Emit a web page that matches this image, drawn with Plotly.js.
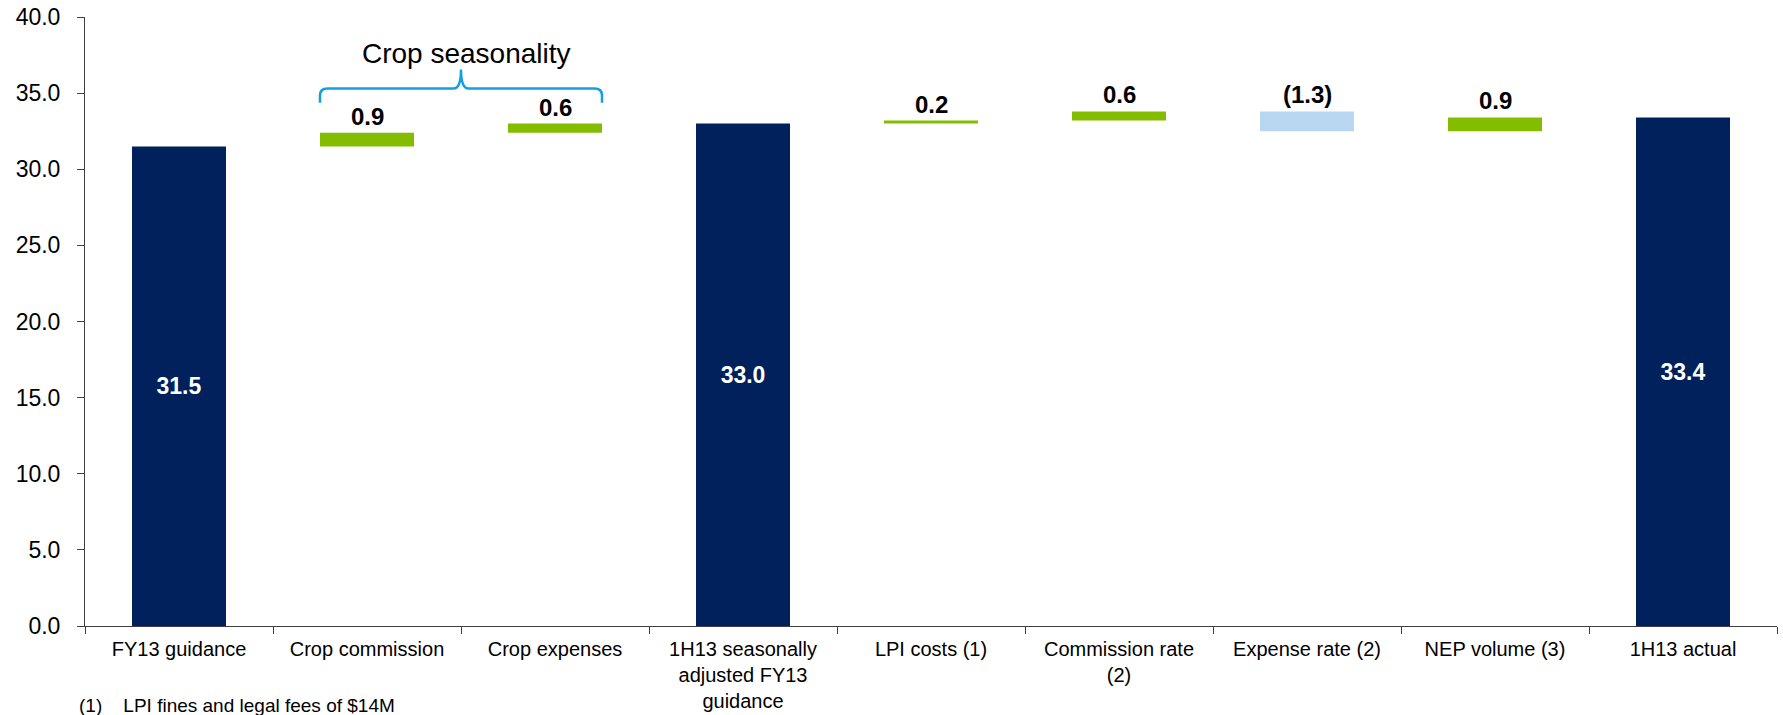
<!DOCTYPE html>
<html>
<head>
<meta charset="utf-8">
<script src="https://cdn.plot.ly/plotly-3.0.1.min.js"></script>
<style>
  html, body { margin: 0; padding: 0; background: #ffffff; }
  #chart { width: 1783px; height: 715px; }
</style>
</head>
<body>
<div id="chart"></div>
<script>
// ---- data ----
const categories = [
  'FY13 guidance',
  'Crop commission',
  'Crop expenses',
  '1H13 seasonally<br>adjusted FY13<br>guidance',
  'LPI costs (1)',
  'Commission rate<br>(2)',
  'Expense rate (2)',
  'NEP volume (3)',
  '1H13 actual'
];
const measures = ['absolute', 'relative', 'relative', 'total', 'relative', 'relative', 'relative', 'relative', 'total'];
const values = [31.5, 0.9, 0.6, 33.0, 0.2, 0.6, -1.3, 0.9, 33.4];
const valueLabels = ['31.5', '0.9', '0.6', '33.0', '0.2', '0.6', '(1.3)', '0.9', '33.4'];
const yTickVals = [0, 5, 10, 15, 20, 25, 30, 35, 40];
const bracketLabel = 'Crop seasonality';
const bracketFrom = 1;   // first category index covered by the bracket
const bracketTo = 2;     // last category index covered by the bracket
const footnote = '(1)    LPI fines and legal fees of $14M';

// ---- styles ----
const FONT = '"Liberation Sans", Arial, sans-serif';
const NAVY = '#00215B';
const GREEN = '#84BD00';
const LIGHTBLUE = '#B9D7F1';
const BRACE = '#12A0E3';
const BAR_W = 0.5;

// running totals for labels
let running = 0;
const insideText = [];
const annotations = [];
for (let i = 0; i < categories.length; i++) {
  if (measures[i] === 'relative') {
    const start = running;
    const end = running + values[i];
    running = end;
    insideText.push('');
    annotations.push({
      x: i, y: Math.max(start, end), xref: 'x', yref: 'y',
      text: '<b>' + valueLabels[i] + '</b>',
      showarrow: false, yanchor: 'bottom', yshift: 1,
      font: { family: FONT, size: 24, color: '#000000' }
    });
  } else {
    if (measures[i] === 'absolute') running = values[i];
    insideText.push('<b>' + valueLabels[i] + '</b>');
  }
}

// bracket (curly brace) in data coordinates over the crop categories
const bx0 = bracketFrom - BAR_W / 2;
const bx1 = bracketTo + BAR_W / 2;
const bmid = (bracketFrom + bracketTo) / 2;
const yEnd = 34.36, yLine = 35.3, yTip = 36.55;
const cx = 0.04, cy = 0.45;
const bracePath =
  'M ' + bx0 + ',' + yEnd +
  ' L ' + bx0 + ',' + (yLine - cy) +
  ' Q ' + bx0 + ',' + yLine + ' ' + (bx0 + cx) + ',' + yLine +
  ' L ' + (bmid - cx) + ',' + yLine +
  ' Q ' + bmid + ',' + yLine + ' ' + bmid + ',' + yTip +
  ' Q ' + bmid + ',' + yLine + ' ' + (bmid + cx) + ',' + yLine +
  ' L ' + (bx1 - cx) + ',' + yLine +
  ' Q ' + bx1 + ',' + yLine + ' ' + bx1 + ',' + (yLine - cy) +
  ' L ' + bx1 + ',' + yEnd;

annotations.push({
  x: bmid + 0.03, y: 37.6, xref: 'x', yref: 'y',
  text: bracketLabel, showarrow: false,
  font: { family: FONT, size: 28, color: '#000000' }
});
annotations.push({
  x: -0.005, y: -0.11, xref: 'paper', yref: 'paper',
  xanchor: 'left', yanchor: 'top', align: 'left',
  text: footnote, showarrow: false,
  font: { family: FONT, size: 19, color: '#000000' }
});

const trace = {
  type: 'waterfall',
  x: categories,
  y: values,
  measure: measures,
  text: insideText,
  textposition: 'inside',
  insidetextanchor: 'middle',
  textangle: 0,
  constraintext: 'none',
  textfont: { family: FONT, size: 23, color: '#ffffff' },
  width: categories.map(() => BAR_W),
  connector: { visible: false },
  increasing: { marker: { color: GREEN } },
  decreasing: { marker: { color: LIGHTBLUE } },
  totals: { marker: { color: NAVY } },
  hoverinfo: 'skip'
};

const layout = {
  width: 1783,
  height: 715,
  margin: { l: 85, r: 6, t: 17, b: 89 },
  paper_bgcolor: '#ffffff',
  plot_bgcolor: '#ffffff',
  showlegend: false,
  font: { family: FONT, color: '#000000' },
  xaxis: {
    type: 'category',
    showgrid: false,
    zeroline: false,
    showline: true,
    linecolor: '#404040',
    linewidth: 1,
    ticks: 'outside',
    tickson: 'boundaries',
    ticklen: 7,
    tickcolor: '#404040',
    ticklabelstandoff: 5,
    tickfont: { family: FONT, size: 20, color: '#000000' },
    fixedrange: true
  },
  yaxis: {
    range: [0, 40],
    tickvals: yTickVals,
    tickformat: '.1f',
    showgrid: false,
    zeroline: false,
    showline: true,
    linecolor: '#404040',
    linewidth: 1,
    ticks: 'outside',
    ticklen: 7,
    tickcolor: '#404040',
    ticklabelstandoff: 12,
    tickfont: { family: FONT, size: 23, color: '#000000' },
    fixedrange: true
  },
  shapes: [{
    type: 'path',
    xref: 'x', yref: 'y',
    path: bracePath,
    line: { color: BRACE, width: 2.5 }
  }],
  annotations: annotations
};

Plotly.newPlot('chart', [trace], layout, { displayModeBar: false, staticPlot: true });
</script>
</body>
</html>
